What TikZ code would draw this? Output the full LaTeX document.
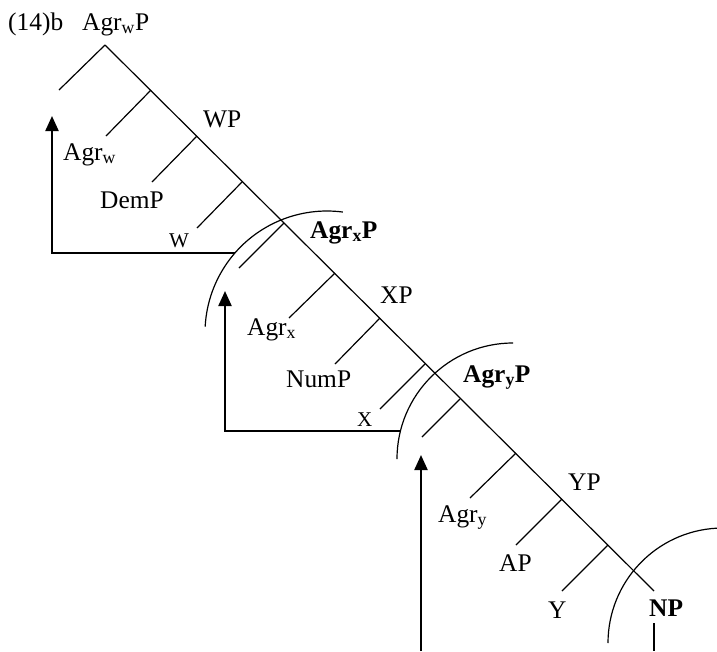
\documentclass[tikz,border=0pt]{standalone}
\usepackage{fontspec}
\setmainfont{Liberation Serif}
\usetikzlibrary{arrows.meta}

\begin{document}
\begin{tikzpicture}[x=1pt,y=-1pt,
  branch/.style={line width=1.2pt},
  move/.style={line width=2.2pt,-{Triangle[width=13pt,length=15pt]}},
  lab/.style={anchor=base west,inner sep=0pt,font=\fontsize{25.4}{29}\selectfont},
  smalllab/.style={lab,font=\fontsize{21}{24}\selectfont}]
\useasboundingbox (0,0) rectangle (717,651);
\coordinate (top) at (105,45);
\coordinate (bot) at (654,591);
\draw[branch] (top) -- (bot);
\draw[branch] (top) -- (59,90);
\foreach \n/\sx/\sy/\ex/\ey in {1/151/90/106/136, 2/197/136/152/182, 3/242/182/197/228,
    4/284/223/239/268, 5/335/273/289/318, 6/380/318/335/364, 7/425/364/380/409,
    8/460/399/422/437, 9/516/453/470/498, 10/562/499/516/545, 11/608/545/562/591}
{
    \coordinate (s\n) at (\sx,\sy);
    \coordinate (e\n) at (\ex,\ey);
    \draw[branch] (s\n) -- (e\n);
}
\node[lab] (ex) at (8,30) {(14)b};
\node[lab] (agrwp) at (82,30) {Agr\textsubscript{w}P};
\node[lab] (wp) at (203,127) {WP};
\node[lab] (agrw) at (63,160) {Agr\textsubscript{w}};
\node[lab] (demp) at (100,208) {DemP};
\node[smalllab] (w) at (169,247) {W};
\node[lab] (agrxp) at (310,238) {\textbf{Agr\textsubscript{x}P}};
\node[lab] (xp) at (380,303) {XP};
\node[lab] (agrx) at (247,335) {Agr\textsubscript{x}};
\node[lab] (nump) at (286,387) {NumP};
\node[smalllab] (x) at (357,426) {X};
\node[lab] (agryp) at (463,382) {\textbf{Agr\textsubscript{y}P}};
\node[lab] (yp) at (568,490) {YP};
\node[lab] (agry) at (438,522) {Agr\textsubscript{y}};
\node[lab] (ap) at (499,571) {AP};
\node[lab] (y) at (548,618) {Y};
\node[lab] (np) at (649,616) {\textbf{NP}};
\coordinate (nptop) at (654,623);
\coordinate (npfoot) at (654,651);
\draw[branch] (nptop) -- (npfoot);
\draw[branch] (327,333) ++(-82.5:122) arc[start angle=-82.5,end angle=-177,radius=122];
\draw[branch] (513,459) ++(-90:116) arc[start angle=-90,end angle=-180,radius=116];
\draw[branch] (723,643) ++(-93:115) arc[start angle=-93,end angle=-180,radius=115];
\coordinate (m1a) at (235,253);
\coordinate (m1b) at (52,253);
\coordinate (m1c) at (52,116);
\draw[move] (m1a) -- (m1b) -- (m1c);
\coordinate (m2a) at (400,431);
\coordinate (m2b) at (225,431);
\coordinate (m2c) at (225,291);
\draw[move] (m2a) -- (m2b) -- (m2c);
\coordinate (m3a) at (421,651);
\coordinate (m3c) at (421,455);
\draw[move] (m3a) -- (m3c);
\end{tikzpicture}
\end{document}
